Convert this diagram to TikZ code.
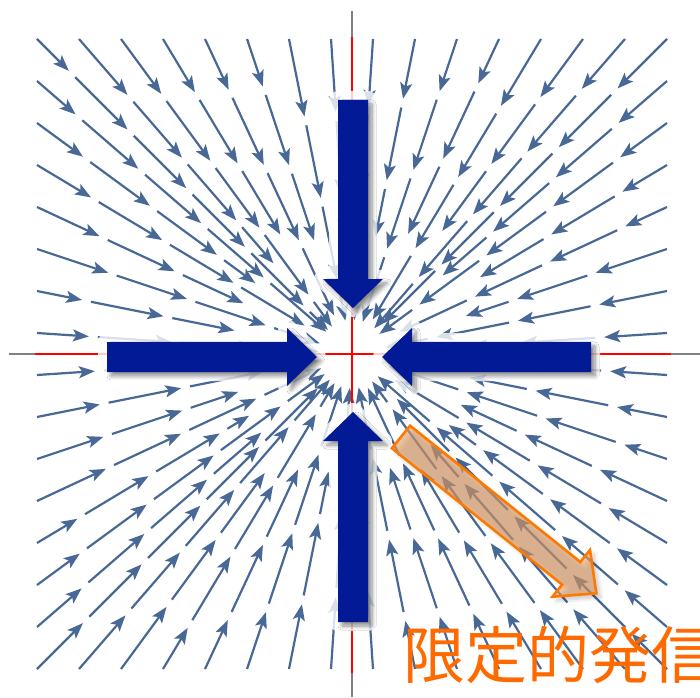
\documentclass[tikz,border=0pt]{standalone}
\usepackage{fontspec}
\newfontfamily\jpfont{Noto Sans CJK JP}
\usetikzlibrary{arrows.meta,shadows.blur}
\definecolor{streamcol}{RGB}{72,104,150}
\definecolor{bigblue}{RGB}{2,26,150}
\definecolor{axisgray}{RGB}{128,128,128}
\definecolor{orangeline}{RGB}{255,120,0}
\definecolor{orangefill}{RGB}{226,162,108}
\definecolor{textorange}{RGB}{255,106,0}
\begin{document}
\begin{tikzpicture}[x=1pt,y=1pt,
  stream/.style={streamcol, line width=2.2pt, -{Stealth[length=16pt,width=12pt,inset=3.5pt]}},
  axisline/.style={axisgray, line width=1.6pt},
  redline/.style={red, line width=2pt},
  glow/.style={draw=white, line width=18pt, line join=round, opacity=0.8},
  bigarrow/.style={fill=bigblue, blur shadow={shadow xshift=4pt, shadow yshift=-4pt, shadow blur steps=6, shadow blur radius=4pt, shadow opacity=45}},
  orangearrow/.style={draw=orangeline, line width=2.6pt, line join=miter, fill=orangefill, fill opacity=0.62, blur shadow={shadow xshift=4pt, shadow yshift=-4pt, shadow blur steps=6, shadow blur radius=4pt, shadow opacity=22}},
  labeltext/.style={anchor=base west, inner sep=0pt, text=textorange, font=\jpfont\fontsize{62}{62}\selectfont}
]
\useasboundingbox (0,0) rectangle (700,697);
\clip (0,0) rectangle (700,697);
% stream field
\begin{scope}[shift={(352,343)}]
\foreach \side in {0,90,180,270}{
  \foreach \i in {0,...,14}{
    \pgfmathsetmacro{\t}{-315+\i*42}
    \pgfmathsetmacro{\xs}{\t*cos(\side)-315*sin(\side)}
    \pgfmathsetmacro{\ys}{\t*sin(\side)+315*cos(\side)}
    \pgfmathsetmacro{\dd}{veclen(\xs,\ys)}
    \pgfmathsetmacro{\ang}{atan2(\ys,\xs)}
    \pgfmathsetmacro{\rstop}{mod(\i,2)==0 ? 34 : 120}
    \pgfmathsetmacro{\first}{45+mod(\i*29+\side,35)}
    \foreach \k in {0,...,6}{
      \pgfmathsetmacro{\ra}{\k==0 ? \dd : \dd-\first-9-(\k-1)*83}
      \pgfmathsetmacro{\rraw}{\k==0 ? \dd-\first : \ra-74}
      \pgfmathsetmacro{\rb}{max(\rraw,\rstop)}
      \pgfmathtruncatemacro{\ok}{(\ra-\rb>25) ? 1 : 0}
      \ifnum\ok=1
        \draw[stream] (\ang:\ra) -- (\ang:\rb);
      \fi
    }
  }
}
\end{scope}
% axes
\draw[axisline] (352,686) -- (352,0);
\draw[axisline] (9,343) -- (700,343);
\draw[redline] (352,660) -- (352,24);
\draw[redline] (35,343) -- (671,343);
% glows
\draw[glow] (338,597) -- (368,597) -- (368,418) -- (383,418) -- (353,389) -- (323,418) -- (338,418) -- cycle;
\draw[glow] (338,75) -- (368,75) -- (368,256) -- (383,256) -- (353,285) -- (323,256) -- (338,256) -- cycle;
\draw[glow] (107,325) -- (287,325) -- (287,311) -- (317,340) -- (287,369) -- (287,355) -- (107,355) -- cycle;
\draw[glow] (591,325) -- (412,325) -- (412,311) -- (382,340) -- (412,369) -- (412,355) -- (591,355) -- cycle;
% big arrows
\path[bigarrow] (338,597) -- (368,597) -- (368,418) -- (383,418) -- (353,389) -- (323,418) -- (338,418) -- cycle;
\path[bigarrow] (338,75) -- (368,75) -- (368,256) -- (383,256) -- (353,285) -- (323,256) -- (338,256) -- cycle;
\path[bigarrow] (107,325) -- (287,325) -- (287,311) -- (317,340) -- (287,369) -- (287,355) -- (107,355) -- cycle;
\path[bigarrow] (591,325) -- (412,325) -- (412,311) -- (382,340) -- (412,369) -- (412,355) -- (591,355) -- cycle;
% orange arrow
\path[orangearrow] (410,271.3) -- (580.3,135) -- (590,147.1) -- (596.3,103.7) -- (552.5,100.3) -- (562.2,112.4) -- (391.9,248.7) -- cycle;
% label
\node[labeltext] (label) at (403,19) {限定的発信};
\end{tikzpicture}
\end{document}
